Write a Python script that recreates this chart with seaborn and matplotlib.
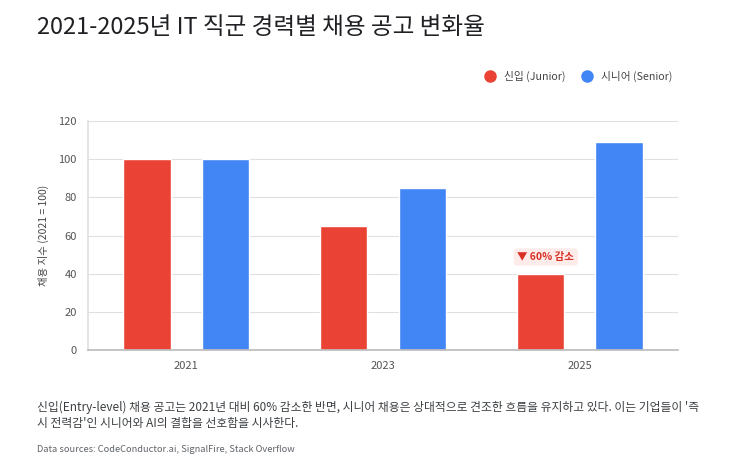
import pandas as pd
import seaborn as sns
from matplotlib import pyplot as plt

# chart data
years = ["2021", "2023", "2025"]
junior = [100, 65, 40]
senior = [100, 85, 109]
series_names = ["신입 (Junior)", "시니어 (Senior)"]
colors = ["#EA4335", "#4285F4"]

df = pd.DataFrame({
    "year": years * 2,
    "value": junior + senior,
    "group": [series_names[0]] * 3 + [series_names[1]] * 3,
})

sns.set_theme(style="white")
plt.rcParams["font.family"] = ["Noto Sans CJK KR", "DejaVu Sans"]

fig = plt.figure(figsize=(7.4, 4.71), dpi=100)
ax = fig.add_axes([88 / 740, 1 - 350 / 471, 590 / 740, 229 / 471])

sns.barplot(data=df, x="year", y="value", hue="group", palette=colors,
            width=0.8, gap=0.4, saturation=1, ax=ax, legend=False)

ax.set_xlim(-0.5, 2.5)
ax.set_ylim(0, 120)
ax.set_yticks(range(0, 121, 20))
ax.yaxis.grid(True, color="#e0e0e0", linewidth=0.8)
ax.set_axisbelow(True)
for s in ["top", "right"]:
    ax.spines[s].set_visible(False)
ax.spines["left"].set_color("#e0e0e0")
ax.spines["bottom"].set_color("#bdbdbd")
ax.tick_params(axis="both", length=0, labelsize=8, colors="#555555", pad=8)
ax.set_xlabel("")
ax.set_ylabel("채용 지수 (2021 = 100)", fontsize=7.5, color="#444444", labelpad=7)

# annotation on the 2025 junior bar
ax.annotate("▼ 60% 감소", xy=(2 - 0.2, junior[2]), xytext=(4, 12),
            textcoords="offset points", ha="center", va="center",
            fontsize=7.5, fontweight="bold", color="#D93025",
            bbox=dict(boxstyle="round,pad=0.35", fc="#FDECEA", ec="none"))

# title
fig.text(37 / 740, 1 - 28 / 471, "2021-2025년 IT 직군 경력별 채용 공고 변화율",
         fontsize=17, color="#202124", va="center", ha="left")

# legend
handles = [plt.Line2D([], [], marker="o", linestyle="", markersize=8,
                      markerfacecolor=c, markeredgecolor=c) for c in colors]
fig.legend(handles, series_names, loc="center right",
           bbox_to_anchor=(682 / 740, 1 - 76 / 471), ncol=2, frameon=False,
           fontsize=7.7, handletextpad=0.3, columnspacing=1.0, labelcolor="#444444")

# caption
fig.text(37 / 740, 1 - 407 / 471,
         "신입(Entry-level) 채용 공고는 2021년 대비 60% 감소한 반면, 시니어 채용은 상대적으로 견조한 흐름을 유지하고 있다. 이는 기업들이 '즉",
         fontsize=8.5, color="#3c4043", va="center")
fig.text(37 / 740, 1 - 424 / 471,
         "시 전력감'인 시니어와 AI의 결합을 선호함을 시사한다.",
         fontsize=8.5, color="#3c4043", va="center")
fig.text(37 / 740, 1 - 450 / 471,
         "Data sources: CodeConductor.ai, SignalFire, Stack Overflow",
         fontsize=6.7, color="#5f6368", va="center")

plt.savefig("out.png", dpi=100)
